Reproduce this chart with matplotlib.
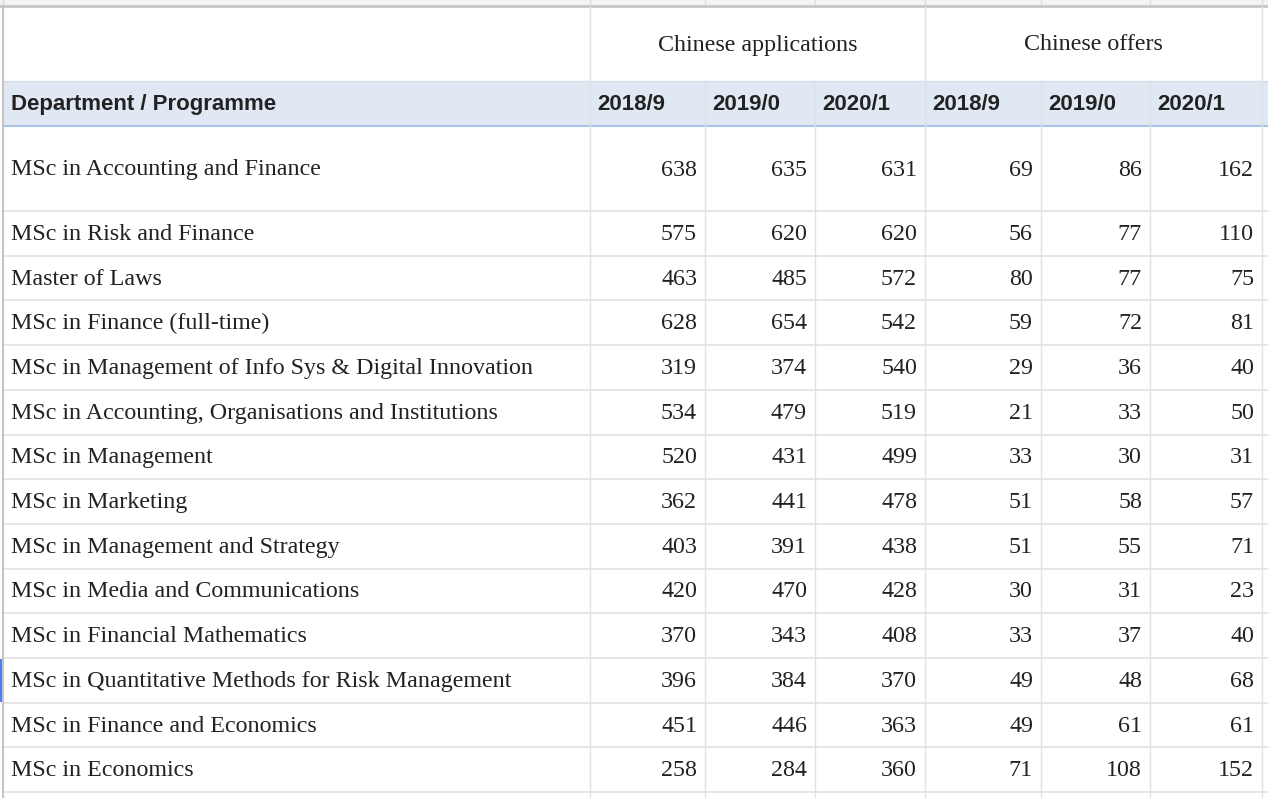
import matplotlib.pyplot as plt
from matplotlib.patches import Rectangle

programmes = [
    "MSc in Accounting and Finance",
    "MSc in Risk and Finance",
    "Master of Laws",
    "MSc in Finance (full-time)",
    "MSc in Management of Info Sys & Digital Innovation",
    "MSc in Accounting, Organisations and Institutions",
    "MSc in Management",
    "MSc in Marketing",
    "MSc in Management and Strategy",
    "MSc in Media and Communications",
    "MSc in Financial Mathematics",
    "MSc in Quantitative Methods for Risk Management",
    "MSc in Finance and Economics",
    "MSc in Economics",
]
years = ["2018/9", "2019/0", "2020/1"]
groups = ["Chinese applications", "Chinese offers"]

apps_2018 = [638, 575, 463, 628, 319, 534, 520, 362, 403, 420, 370, 396, 451, 258]
apps_2019 = [635, 620, 485, 654, 374, 479, 431, 441, 391, 470, 343, 384, 446, 284]
apps_2020 = [631, 620, 572, 542, 540, 519, 499, 478, 438, 428, 408, 370, 363, 360]
offers_2018 = [69, 56, 80, 59, 29, 21, 33, 51, 51, 30, 33, 49, 49, 71]
offers_2019 = [86, 77, 77, 72, 36, 33, 30, 58, 55, 31, 37, 48, 61, 108]
offers_2020 = [162, 110, 75, 81, 40, 50, 31, 57, 71, 23, 40, 68, 61, 152]

columns = [apps_2018, apps_2019, apps_2020, offers_2018, offers_2019, offers_2020]

# layout in pixels
W, H = 1268, 798
col_x = [590, 705, 815, 925, 1041, 1150, 1262]
top_strip = 6
head1_bot = 81
head2_bot = 126
first_row_bot = 211
row_h = 44.7

grid = "#e2e2e2"
txt = "#222222"
serif = ["Liberation Serif", "DejaVu Serif"]
sans = ["Liberation Sans", "DejaVu Sans"]
fs_serif = 17.3
fs_bold = 16

fig = plt.figure(figsize=(W / 100, H / 100), dpi=100)
ax = fig.add_axes([0, 0, 1, 1])
ax.set_xlim(0, W)
ax.set_ylim(H, 0)
ax.axis("off")

# top strip above table
ax.add_patch(Rectangle((0, 0), W, top_strip, color="#f3f3f3", lw=0))
for x in [3] + col_x:
    ax.plot([x, x], [0, top_strip], color="#dcdcdc", lw=1)
ax.plot([0, W], [top_strip, top_strip], color="#c6c6c6", lw=2)

# blue header band
ax.add_patch(Rectangle((3, head1_bot), W, head2_bot - head1_bot, color="#dfe8f3", lw=0))

# row boundaries
row_bounds = [head2_bot, first_row_bot]
for i in range(1, len(programmes)):
    row_bounds.append(first_row_bot + i * row_h)

for yb in row_bounds[1:]:
    ax.plot([3, W], [yb, yb], color=grid, lw=1.2)
ax.plot([3, W], [head1_bot, head1_bot], color="#d6dde6", lw=1)
ax.plot([3, W], [head2_bot, head2_bot], color="#a9c3e6", lw=1.5)

# vertical lines
ax.plot([3, 3], [top_strip, H], color="#c4c4c4", lw=1.5)
ax.plot([col_x[0], col_x[0]], [top_strip, H], color=grid, lw=1)
ax.plot([col_x[3], col_x[3]], [top_strip, H], color=grid, lw=1)
for x in col_x[1:3] + col_x[4:6]:
    ax.plot([x, x], [head1_bot, H], color=grid, lw=1)
ax.plot([col_x[-1], col_x[-1]], [top_strip, H], color=grid, lw=1)

# selected row marker
sel = programmes.index("MSc in Quantitative Methods for Risk Management")
ax.add_patch(Rectangle((0, row_bounds[sel] + 1), 3, row_h - 2, color="#4a7cf5", lw=0))

# group headers
for g, name in enumerate(groups):
    cx = (col_x[g * 3] + col_x[g * 3 + 3]) / 2
    ax.text(cx, 45, name, ha="center", va="center", fontsize=fs_serif,
            family=serif, color=txt)

# column headers
ax.text(11, 104.5, "Department / Programme", ha="left", va="center", fontsize=fs_bold,
        family=sans, fontweight="bold", color=txt)
for j in range(6):
    ax.text(col_x[j] + 7, 104.5, years[j % 3], ha="left", va="center", fontsize=fs_bold,
            family=sans, fontweight="bold", color=txt)

# data rows
for i, prog in enumerate(programmes):
    if i == 0:
        yc = 170
    else:
        yc = row_bounds[i] + row_h / 2 + 1
    ax.text(11, yc, prog, ha="left", va="center", fontsize=fs_serif, family=serif, color=txt)
    for j, col in enumerate(columns):
        ax.text(col_x[j + 1] - 8, yc, str(col[i]), ha="right", va="center",
                fontsize=fs_serif, family=serif, color=txt)

fig.savefig("out.png", dpi=100, facecolor="white")
